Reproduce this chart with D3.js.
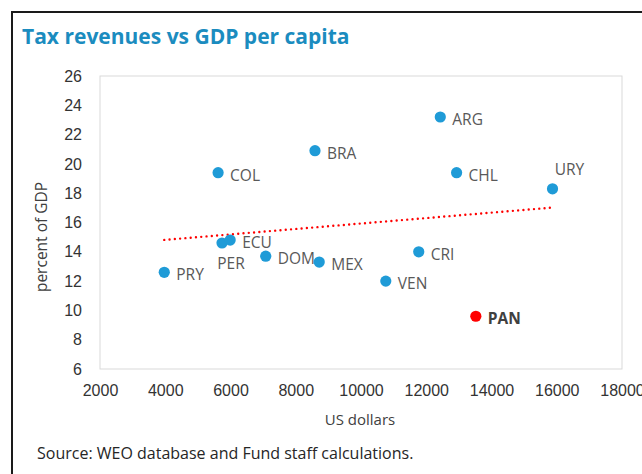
<!DOCTYPE html>
<html>
<head>
<meta charset="utf-8">
<script src="https://cdn.jsdelivr.net/npm/d3@7"></script>
<style>
  body { margin: 0; background: #fff; }
  svg { display: block; font-family: "Open Sans", "Noto Sans", sans-serif; }
</style>
</head>
<body>
<div id="chart"></div>
<script>
// 数据：国家、人均GDP（美元）、税收收入（占GDP百分比）
const countries = ['PRY', 'PER', 'ECU', 'COL', 'BRA', 'DOM', 'MEX', 'CRI', 'VEN', 'ARG', 'CHL', 'URY', 'PAN'];
const gdpPerCapita = [3970, 5740, 5990, 5620, 8590, 7080, 8720, 11770, 10760, 12430, 12930, 15870, 13520];
const taxRevenue = [12.6, 14.6, 14.8, 19.4, 20.9, 13.7, 13.3, 14.0, 12.0, 23.2, 19.4, 18.3, 9.6];
const highlight = 'PAN';

const xTicks = [2000, 4000, 6000, 8000, 10000, 12000, 14000, 16000, 18000];
const yTicks = [6, 8, 10, 12, 14, 16, 18, 20, 22, 24, 26];

// 标签位置（默认在右侧）
const labelOffsets = {
  PER: { dx: 9, dy: 26, anchor: 'middle' },
  URY: { dx: 17, dy: -14, anchor: 'middle' }
};

const width = 642, height = 474;

const svg = d3.select('#chart').append('svg')
  .attr('width', width)
  .attr('height', height);

// 外框
svg.append('line').attr('x1', 12).attr('x2', 12).attr('y1', 11).attr('y2', height)
  .attr('stroke', '#1a1a1a').attr('stroke-width', 2);
svg.append('line').attr('x1', 11).attr('x2', width).attr('y1', 12).attr('y2', 12)
  .attr('stroke', '#1a1a1a').attr('stroke-width', 2);

// 标题
svg.append('text')
  .attr('x', 22).attr('y', 44)
  .attr('fill', '#1b8cbf')
  .style('font-size', '21px')
  .style('font-weight', 'bold')
  .text('Tax revenues vs GDP per capita');

// 比例尺
const x = d3.scaleLinear().domain([2000, 18000]).range([100, 622]);
const y = d3.scaleLinear().domain([6, 26]).range([369, 76]);

// 绘图区边框
svg.append('rect')
  .attr('x', x(2000)).attr('y', y(26))
  .attr('width', x(18000) - x(2000)).attr('height', y(6) - y(26))
  .attr('fill', 'none').attr('stroke', '#d9d9d9').attr('stroke-width', 1);

// 坐标轴
const xAxis = svg.append('g')
  .attr('transform', `translate(0, ${y(6)})`)
  .call(d3.axisBottom(x).tickValues(xTicks).tickSize(0).tickPadding(16).tickFormat(d3.format('d')));
xAxis.select('.domain').remove();
xAxis.selectAll('text').style('font-size', '16px').attr('fill', '#333').style('font-family', null);

const yAxis = svg.append('g')
  .attr('transform', `translate(${x(2000)}, 0)`)
  .call(d3.axisLeft(y).tickValues(yTicks).tickSize(0).tickPadding(18).tickFormat(d3.format('d')));
yAxis.select('.domain').remove();
yAxis.selectAll('text').style('font-size', '16px').attr('fill', '#333').style('font-family', null);

// 轴标题
svg.append('text')
  .attr('x', 360).attr('y', 425)
  .attr('text-anchor', 'middle')
  .attr('fill', '#404040')
  .style('font-size', '15px')
  .text('US dollars');

svg.append('text')
  .attr('transform', 'translate(47, 237) rotate(-90)')
  .attr('text-anchor', 'middle')
  .attr('fill', '#404040')
  .style('font-size', '15.5px')
  .text('percent of GDP');

// 线性趋势线（最小二乘）
const xMean = d3.mean(gdpPerCapita), yMean = d3.mean(taxRevenue);
let sxy = 0, sxx = 0;
gdpPerCapita.forEach((v, i) => {
  sxy += (v - xMean) * (taxRevenue[i] - yMean);
  sxx += (v - xMean) * (v - xMean);
});
const slope = sxy / sxx;
const intercept = yMean - slope * xMean;
const [xMin, xMax] = d3.extent(gdpPerCapita);

svg.append('line')
  .attr('x1', x(xMin)).attr('y1', y(intercept + slope * xMin))
  .attr('x2', x(xMax)).attr('y2', y(intercept + slope * xMax))
  .attr('stroke', '#ff0000')
  .attr('stroke-width', 2.4)
  .attr('stroke-linecap', 'round')
  .attr('stroke-dasharray', '0 5.3');

// 散点
const points = countries.map((c, i) => ({ name: c, gdp: gdpPerCapita[i], tax: taxRevenue[i] }));

svg.selectAll('.dot')
  .data(points)
  .enter()
  .append('circle')
  .attr('class', 'dot')
  .attr('cx', d => x(d.gdp))
  .attr('cy', d => y(d.tax))
  .attr('r', 5.6)
  .attr('fill', d => d.name === highlight ? '#ff0000' : '#1f9bd7');

// 数据标签
svg.selectAll('.label')
  .data(points)
  .enter()
  .append('text')
  .attr('class', 'label')
  .attr('x', d => x(d.gdp) + (labelOffsets[d.name] ? labelOffsets[d.name].dx : 12))
  .attr('y', d => y(d.tax) + (labelOffsets[d.name] ? labelOffsets[d.name].dy : 8))
  .attr('text-anchor', d => labelOffsets[d.name] ? labelOffsets[d.name].anchor : 'start')
  .attr('fill', d => d.name === highlight ? '#404040' : '#595959')
  .style('font-size', '15.5px')
  .style('font-weight', d => d.name === highlight ? 'bold' : 'normal')
  .text(d => d.name);

// 资料来源
svg.append('text')
  .attr('x', 37).attr('y', 459)
  .attr('fill', '#262626')
  .style('font-size', '16px')
  .text('Source: WEO database and Fund staff calculations.');
</script>
</body>
</html>
